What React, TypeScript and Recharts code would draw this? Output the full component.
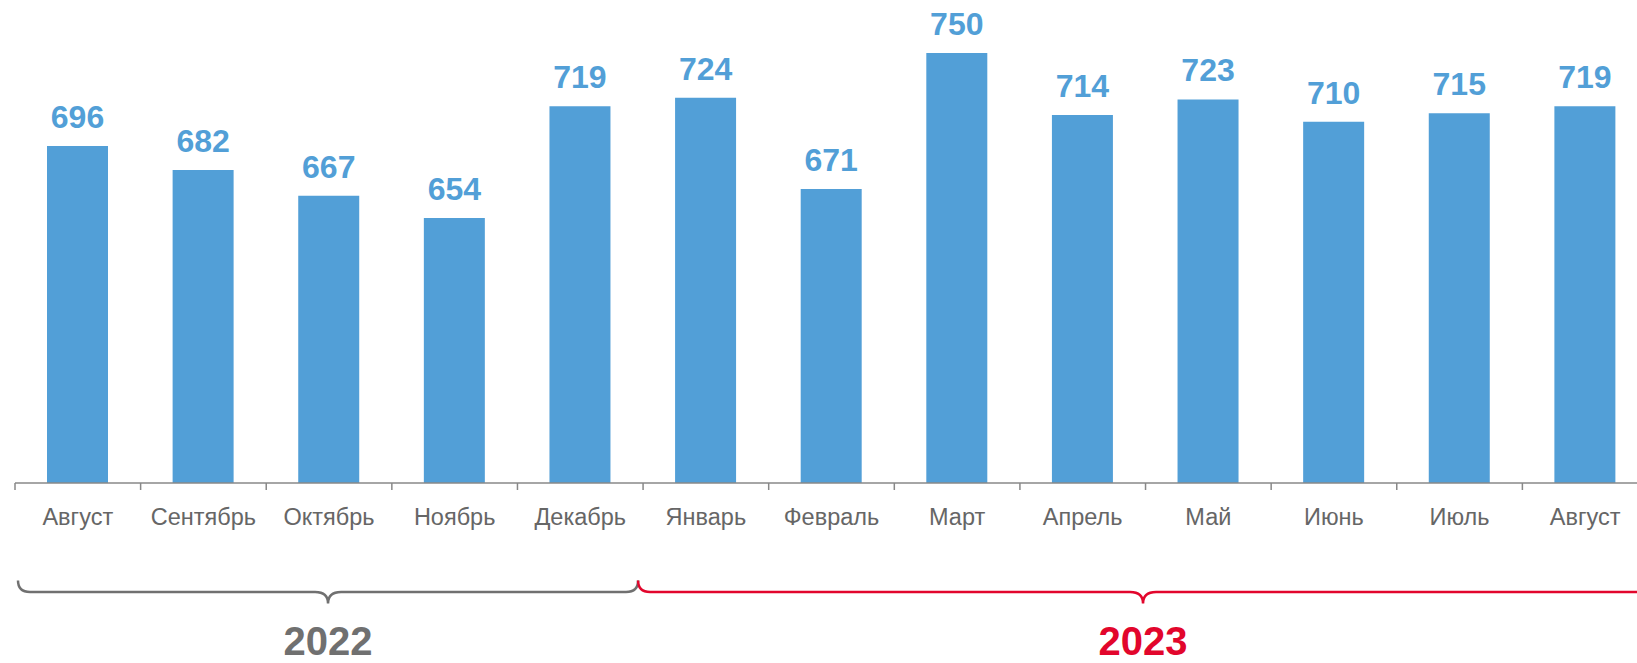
import React from 'react';
import { BarChart, Bar, XAxis, YAxis, LabelList } from 'recharts';

// monthly values, Aug 2022 .. Aug 2023
const months = ['Август', 'Сентябрь', 'Октябрь', 'Ноябрь', 'Декабрь', 'Январь', 'Февраль', 'Март', 'Апрель', 'Май', 'Июнь', 'Июль', 'Август'];
const values = [696, 682, 667, 654, 719, 724, 671, 750, 714, 723, 710, 715, 719];

// year groups (index ranges over months)
const yearLabels = ['2022', '2023'];
const yearStart = [0, 5];
const yearEnd = [5, 13];
const yearColors = ['#707070', '#E2062C'];

const W = 1637;
const H = 663;
const CHART_W = 1648; // right edge of the last band falls outside the picture
const MARGIN = { top: 10, right: 0, bottom: 0, left: 15 };
const AXIS_H = 180;
const BAND = (CHART_W - MARGIN.left - MARGIN.right) / months.length;

const BAR_COLOR = '#529FD7';
const FONT = '"Liberation Sans", Arial, sans-serif';

const data = months.map((m, i) => ({ key: `m${i}`, month: m, value: values[i] }));

const MonthTick = (props: any) => {
  const { x, y, payload, index } = props;
  const left = x - BAND / 2;
  return (
    <g>
      <line x1={left} y1={y - 7} x2={left} y2={y} stroke="#888" strokeWidth={1.5} />
      <text x={x} y={y + 35} textAnchor="middle" fill="#666" fontSize={23.5} fontFamily={FONT}>
        {months[index] ?? payload.value}
      </text>
    </g>
  );
};

// brace path between two x positions, opening downwards to a point in the middle
const bracePath = (x1: number, x2: number, top: number, mid: number, tip: number) => {
  const r = 12;
  const c = (x1 + x2) / 2;
  return [
    `M${x1},${top}`,
    `Q${x1},${mid} ${x1 + r},${mid}`,
    `L${c - r - 1},${mid}`,
    `Q${c},${mid} ${c},${tip}`,
    `Q${c},${mid} ${c + r + 1},${mid}`,
    `L${x2 - r},${mid}`,
    `Q${x2},${mid} ${x2},${top}`,
  ].join(' ');
};

const App: React.FC = () => {
  const bx = (i: number) => MARGIN.left + i * BAND;
  const junction = bx(5) - 5;
  const braces = yearLabels.map((label, g) => {
    const x1 = g === 0 ? bx(yearStart[g]) + 3 : junction;
    const x2 = g === 0 ? junction : bx(yearEnd[g]);
    return { label, x1, x2, color: yearColors[g] };
  });

  return (
    <div style={{ position: 'absolute', left: 0, top: 0, width: W, height: H, overflow: 'hidden', background: '#fff' }}>
      <BarChart width={CHART_W} height={H} data={data} margin={MARGIN}>
        <XAxis
          dataKey="key"
          type="category"
          interval={0}
          height={AXIS_H}
          tickSize={7}
          tickMargin={0}
          tickLine={false}
          axisLine={{ stroke: '#888', strokeWidth: 1.5 }}
          tick={<MonthTick />}
        />
        <YAxis hide type="number" domain={[500, 775]} />
        <Bar dataKey="value" fill={BAR_COLOR} barSize={61} isAnimationActive={false}>
          <LabelList
            dataKey="value"
            position="top"
            offset={18}
            fill={BAR_COLOR}
            fontSize={32}
            fontWeight="bold"
            fontFamily={FONT}
          />
        </Bar>
      </BarChart>
      <svg width={W} height={H} style={{ position: 'absolute', left: 0, top: 0, pointerEvents: 'none' }}>
        {braces.map((b) => (
          <g key={b.label}>
            <path d={bracePath(b.x1, b.x2, 580.5, 592, 603.5)} fill="none" stroke={b.color} strokeWidth={2.5} />
            <text
              x={(b.x1 + b.x2) / 2}
              y={655}
              textAnchor="middle"
              fill={b.color}
              fontSize={40}
              fontWeight="bold"
              fontFamily={FONT}
            >
              {b.label}
            </text>
          </g>
        ))}
      </svg>
    </div>
  );
};

export default App;
